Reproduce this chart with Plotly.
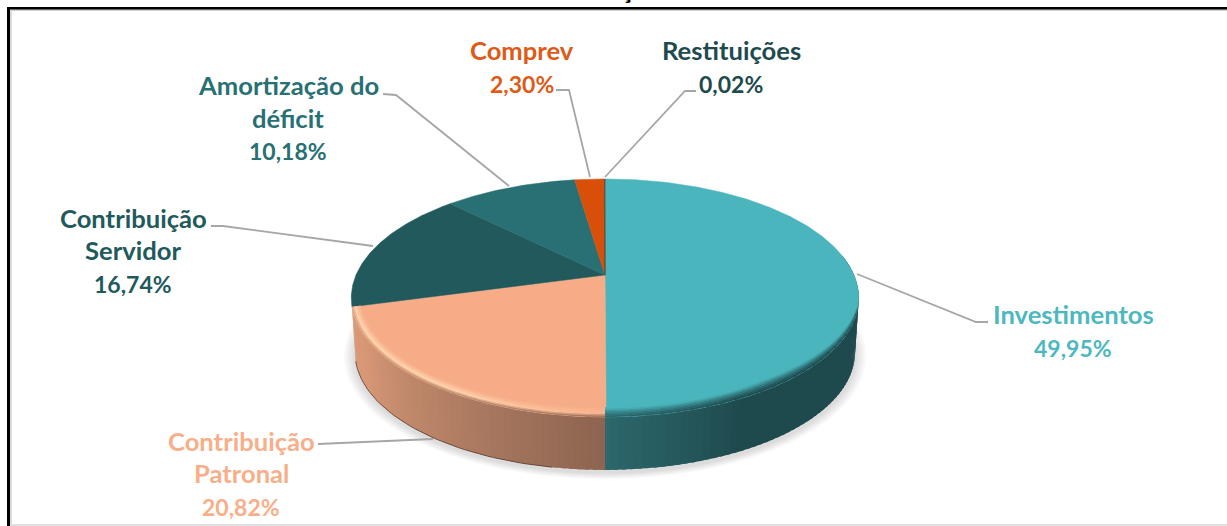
import numpy as np
import plotly.graph_objects as go

# ---- data ----
categories = ["Investimentos", "Contribuição Patronal", "Contribuição Servidor",
              "Amortização do déficit", "Comprev", "Restituições"]
values = [49.95, 20.82, 16.74, 10.18, 2.30, 0.02]
pct_labels = ["49,95%", "20,82%", "16,74%", "10,18%", "2,30%", "0,02%"]
name_lines = [["Investimentos"], ["Contribuição", "Patronal"], ["Contribuição", "Servidor"],
              ["Amortização do", "déficit"], ["Comprev"], ["Restituições"]]
colors = ["#4AB5BC", "#F6AD87", "#21595C", "#287073", "#D84F0A", "#1E4A4D"]
label_text_colors = ["#4DB8BF", "#F8AE88", "#21595C", "#287073", "#DE5A16", "#1E4A4D"]

# ---- layout / style ----
W, H = 1227, 526
CX, CY, SX, SY, K = 605.0, 275.0, 249.0, 114.6, 0.193   # projection of the disc
DEPTH, SHRINK = 55 / SY, 0.985
FONT = "Lato"
FS = 25.6
FS_PCT = 23
LEAD = "#A6A6A6"

def dx(px): return (px - CX) / SX
def dy(py): return (CY - py) / SY

# pixel centres of the label lines, per category, and leader-line vertices
label_x = [1073, 241, 133, 288, 522, 731]
label_y = [[314, 348], [441, 473, 507], [218, 250, 284], [85, 118, 151], [50, 84], [50, 84]]
leaders = [
    [(857, 274), (976, 322), (988, 322)],
    [(433, 439), (318, 444)],
    [(373, 246), (223, 226), (211, 226)],
    [(509, 186), (396, 95), (383, 94)],
    [(590, 177), (569, 90), (556, 90)],
    [(605, 177), (685, 91), (696, 91)],
]

def top(t, r=1.0):
    t = np.radians(np.asarray(t, float))
    u, v = r * np.sin(t), r * np.cos(t)
    w = 1 + K * v
    return u / w, v / w

def bottom(t):
    x, y = top(t)
    return x * SHRINK, y * SHRINK - DEPTH

def mix(a, b, f):
    return tuple(a[i] + (b[i] - a[i]) * f for i in range(3))

def css(c):
    return "rgb(%d,%d,%d)" % tuple(int(round(v)) for v in c)

def rgb(h):
    return tuple(int(h[i:i + 2], 16) for i in (1, 3, 5))

fig = go.Figure()

def poly(xs, ys, color, lw=0.0):
    line = dict(color=color, width=lw)
    fig.add_trace(go.Scatter(x=list(xs), y=list(ys), mode="lines", fill="toself",
                             fillcolor=color, line=line,
                             hoverinfo="skip", showlegend=False))

total = sum(values)
edges = np.concatenate([[0], np.cumsum(values)]) / total * 360

# soft shadow under the disc
ang = np.linspace(85, 275, 120)
for i in range(7):
    bx, by = bottom(ang)
    grow = 1 + (7 - i) * 0.0065
    poly(bx * grow, (by + DEPTH) * grow - DEPTH - 3.0 / SY, "rgba(0,0,0,0.018)")

# side wall, shaded by angle
T_PAT = edges[2]
teal_a, teal_b = (44, 104, 108), (30, 73, 77)
pat_a, pat_b = (140, 100, 80), (216, 152, 119)

def wall_color(t):
    if t < 180:
        return mix(teal_a, teal_b, min(1, (180 - t) / 28))
    return mix(pat_a, pat_b, min(1, (t - 180) / 62))

step = 1.5
OV = 0.8
for lo, hi in ((80, 180), (180, T_PAT)):
    for t0 in np.arange(lo, hi - 1e-6, step):
        t1 = min(t0 + step + OV, hi)
        ts = np.linspace(t0, t1, 3)
        xa, ya = top(ts)
        xb, yb = bottom(ts[::-1])
        poly(np.r_[xa, xb], np.r_[ya, yb], css(wall_color(t0 + step / 2)))

# dark lower rim
ang = np.linspace(190, T_PAT, 50)
bx, by = bottom(ang)
fig.add_trace(go.Scatter(x=bx, y=by, mode="lines", line=dict(color="rgba(80,55,42,0.75)", width=1),
                         hoverinfo="skip", showlegend=False))

# top surface slices
for i in range(len(values)):
    ts = np.linspace(edges[i], edges[i + 1], max(3, int(edges[i + 1] - edges[i]) * 2))
    x, y = top(ts)
    poly(np.r_[0, x, 0], np.r_[0, y, 0], colors[i], 0.5)

# bevel along the front rim of the two front slices
LAYERS = 7
def bevel_width(t):
    if t < 180:
        return 0.058 * min(1, max(0, (t - 102) / 42))
    return 0.058 - 0.025 * (t - 180) / 75

def bevel_color(t, f):
    wall = wall_color(t)
    if t < 180:
        flat = rgb(colors[0])
        return mix(wall, flat, min(1, f * 1.15) ** 1.4)
    flat = rgb(colors[1])
    glow = (255, 212, 174)
    h = min(1, (t - 180) / 30) * 0.8 + 0.2
    peak = mix(flat, glow, h)
    if f < 0.35:
        return mix(wall, peak, f / 0.35)
    return mix(peak, flat, (f - 0.35) / 0.65)

seg = 3.0
for lo, hi in ((100, 180), (180, T_PAT)):
    for t0 in np.arange(lo, hi - 1e-6, seg):
        t1 = min(t0 + seg + 0.6, hi)
        tm = t0 + seg / 2
        ts = np.linspace(t0, t1, 3)
        e0 = np.array([bevel_width(t) for t in ts])
        for j in range(LAYERS):
            f0, f1 = j / LAYERS, min(1.0, (j + 1.25) / LAYERS)
            xa, ya = top(ts, 1 - e0 * f0)
            xb, yb = top(ts[::-1], 1 - e0[::-1] * f1)
            poly(np.r_[xa, xb], np.r_[ya, yb], css(bevel_color(tm, (j + 0.5) / LAYERS)))

# leader lines
for pts in leaders:
    fig.add_trace(go.Scatter(x=[dx(p[0]) for p in pts], y=[dy(p[1]) for p in pts], mode="lines",
                             line=dict(color=LEAD, width=1.8), hoverinfo="skip", showlegend=False))

# labels
annotations = []
for i, names in enumerate(name_lines):
    lines = names + [pct_labels[i]]
    for k, (line, py) in enumerate(zip(lines, label_y[i])):
        size = FS_PCT if k == len(lines) - 1 else FS
        annotations.append(dict(x=dx(label_x[i]), y=dy(py), xref="x", yref="y", text="<b>%s</b>" % line,
                                showarrow=False, xanchor="center", yanchor="middle",
                                font=dict(family=FONT, size=size, color=label_text_colors[i])))

# tail of the cropped title at the very top edge
annotations.append(dict(x=627 / W, y=1 + 11 / H, xref="paper", yref="paper", text="<b>ç</b>", showarrow=False,
                        xanchor="center", yanchor="middle", font=dict(family=FONT, size=25, color="#000000")))

# frame of the surrounding slide
def psh(x0, y0, x1, y1, color):
    return dict(type="rect", xref="paper", yref="paper", x0=x0 / W, x1=x1 / W, y0=1 - y0 / H, y1=1 - y1 / H,
                fillcolor=color, line=dict(width=0), layer="above")

shapes = [
    psh(8, 9, W, 11, "#D0D0D0"),
    psh(10, 9, 12, H, "#DADADA"),
    psh(10, 524, W, 526, "#E0E0E0"),
    psh(7, 7, W, 9.5, "#000000"),
    psh(7, 7, 10, H, "#000000"),
]

fig.update_layout(
    width=W, height=H, margin=dict(l=0, r=0, t=0, b=0),
    paper_bgcolor="white", plot_bgcolor="white", showlegend=False,
    xaxis=dict(range=[dx(0), dx(W)], visible=False, fixedrange=True, domain=[0, 1]),
    yaxis=dict(range=[dy(H), dy(0)], visible=False, fixedrange=True, domain=[0, 1]),
    annotations=annotations, shapes=shapes,
)

fig.write_html("out.html", config=dict(displayModeBar=False),
               post_script="document.body.style.margin='0';document.body.style.overflow='hidden';")
